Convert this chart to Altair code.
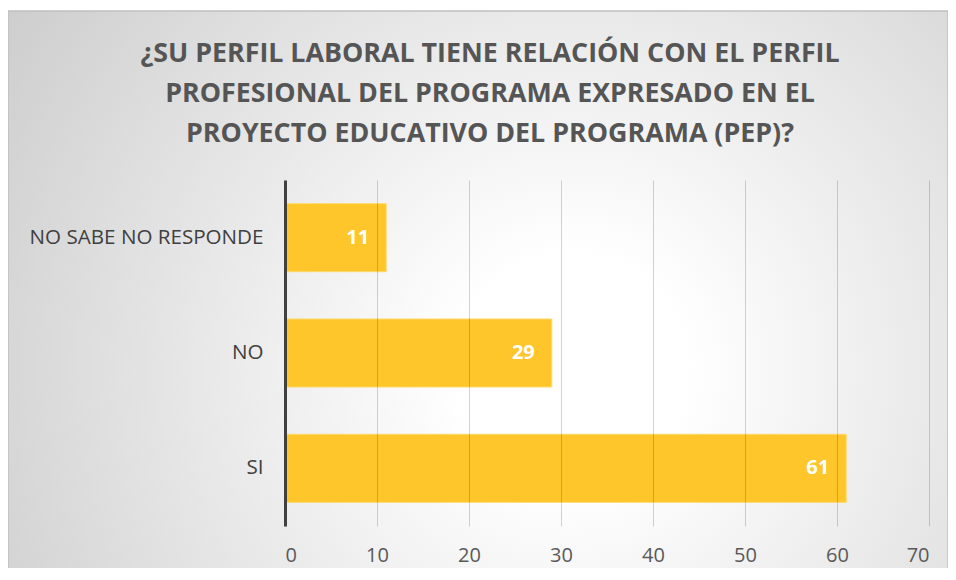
import altair as alt
import pandas as pd

categories = ["NO SABE NO RESPONDE", "NO", "SI"]
values = [11, 29, 61]
x_ticks = [0, 10, 20, 30, 40, 50, 60, 70]
title_lines = [
    "¿SU PERFIL LABORAL TIENE RELACIÓN CON EL PERFIL",
    "PROFESIONAL DEL PROGRAMA EXPRESADO EN EL",
    "PROYECTO EDUCATIVO DEL PROGRAMA (PEP)?",
]

df = pd.DataFrame({"cat": categories, "val": values})

W, H = 644, 346
PL, PT, PR, PB = 277, 172, 19, 42
FONT = "Open Sans"

one = pd.DataFrame({"k": [0]})

bg = alt.Chart(one).mark_rect(
    fill=alt.RadialGradient(
        gradient="radial",
        stops=[
            alt.GradientStop(color="#ffffff", offset=0),
            alt.GradientStop(color="#ffffff", offset=0.15),
            alt.GradientStop(color="#c6c6c6", offset=1),
        ],
        x1=0.6, y1=0.58, r1=0, x2=0.6, y2=0.58, r2=0.8,
    ),
    stroke="#c0c0c0",
    strokeWidth=1.5,
).encode(
    x=alt.value(-PL), x2=alt.value(W + PR),
    y=alt.value(3 - PT), y2=alt.value(H + PB + 10),
)

title = alt.Chart(one).mark_text(
    text=title_lines, align="center", baseline="alphabetic", lineHeight=40,
    font=FONT, fontSize=26.8, fontWeight="bold", color="#555555",
).encode(x=alt.value(205), y=alt.value(-118))

base = alt.Chart(df)

bars = base.mark_bar(color="#FEC62A", stroke="#FFD96A", strokeWidth=1).encode(
    x=alt.X(
        "val:Q",
        scale=alt.Scale(domain=[0, 70], nice=False),
        axis=alt.Axis(
            values=x_ticks, title=None, domain=False, ticks=False, grid=True,
            gridColor="#000000", gridOpacity=0.17, gridWidth=1,
            labelFont=FONT, labelFontSize=20, labelColor="#595959",
            labelPadding=19, zindex=1,
        ),
    ),
    y=alt.Y(
        "cat:N", sort=categories,
        scale=alt.Scale(paddingInner=0.41, paddingOuter=0.205),
        axis=alt.Axis(
            title=None, ticks=False, domain=True, domainColor="#404040",
            domainWidth=3, labelFont=FONT, labelFontSize=20.6,
            labelColor="#404040", labelPadding=22, labelLimit=400, zindex=1,
        ),
    ),
)

labels = base.mark_text(
    align="right", baseline="middle", dx=-17, color="white",
    fontWeight="bold", fontSize=20, font=FONT,
).encode(
    x="val:Q",
    y=alt.Y("cat:N", sort=categories),
    text="val:Q",
)

chart = alt.layer(bg, title, bars, labels).properties(
    width=W, height=H,
    padding={"left": PL, "top": PT, "right": PR, "bottom": PB},
    autosize=alt.AutoSizeParams(type="none"),
).configure_view(stroke=None)

chart.save("out.html", embed_options={"renderer": "svg", "actions": False})
